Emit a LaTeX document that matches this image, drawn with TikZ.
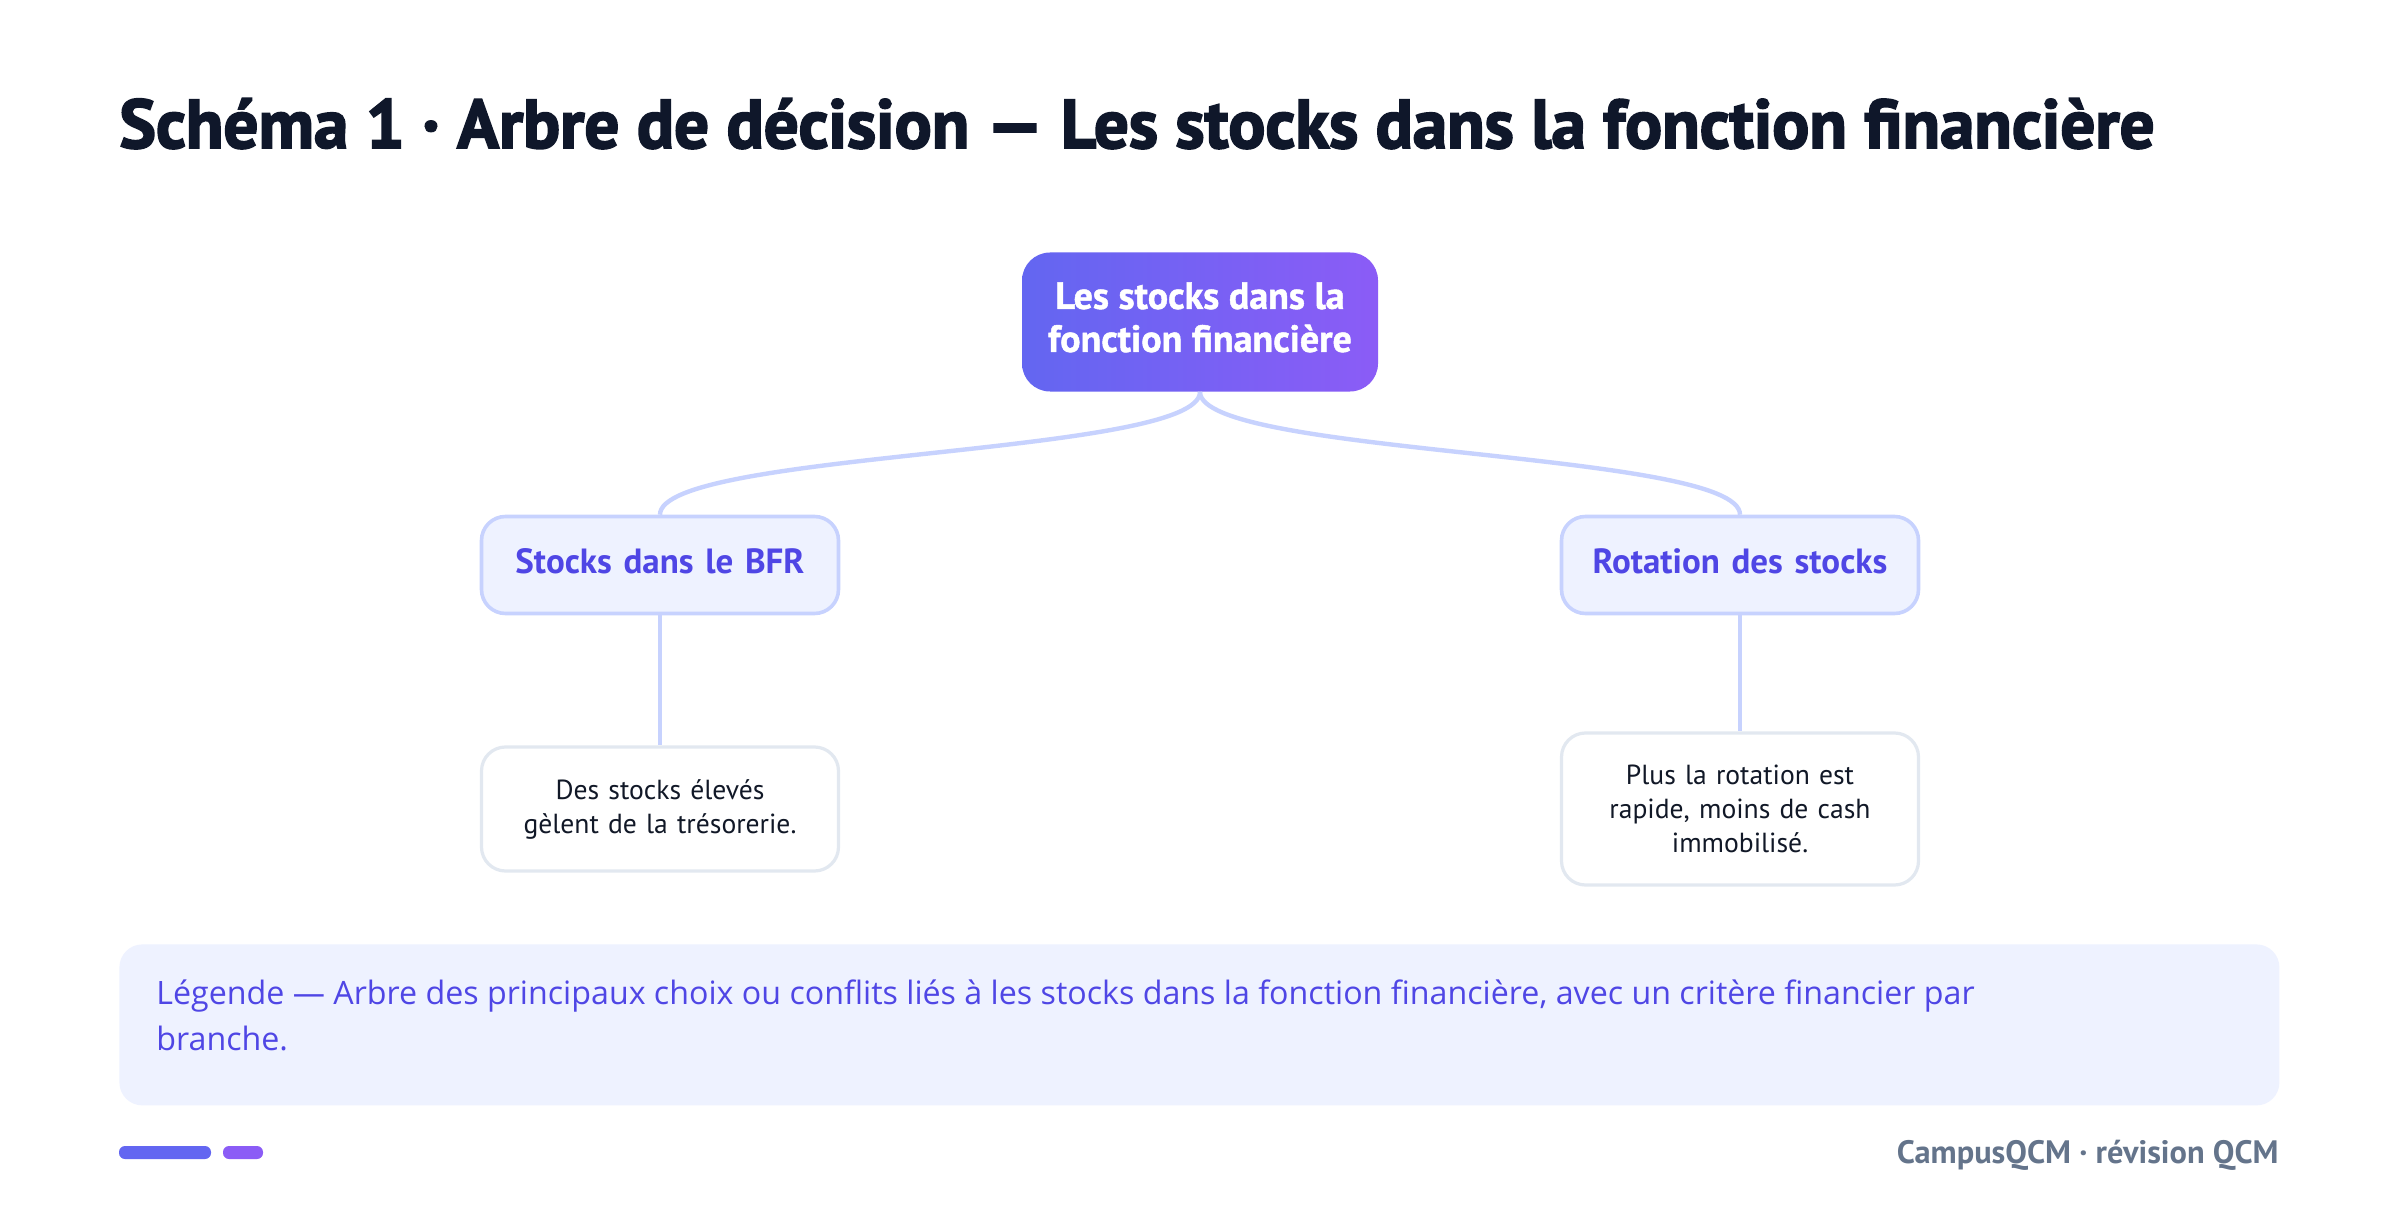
\documentclass[tikz,border=0pt]{standalone}
\usepackage{fontspec}
\setmainfont{PT Sans}
\newfontfamily\titlefont{PT Sans}[BoldFeatures={FakeBold=2.6}]
\newfontfamily\rootfont{PT Sans}[BoldFeatures={FakeBold=1.2}]
\newfontfamily\legendfont{Open Sans}
\definecolor{titleC}{HTML}{0F172A}
\definecolor{rootA}{HTML}{6366F1}
\definecolor{rootB}{HTML}{8B5CF6}
\definecolor{childFill}{HTML}{EEF2FF}
\definecolor{childDraw}{HTML}{C7D2FE}
\definecolor{childText}{HTML}{4F46E5}
\definecolor{leafDraw}{HTML}{E2E8F0}
\definecolor{leafText}{HTML}{111827}
\definecolor{edgeC}{HTML}{C7D2FE}
\definecolor{footC}{HTML}{64748B}
\tikzset{
  rootbox/.style={rounded corners=28*0.5pt, left color=rootA, right color=rootB,
    minimum width=356*0.5pt, minimum height=139*0.5pt,
    align=center, text=white, font=\rootfont\fontsize{19}{21.5}\selectfont\bfseries, inner sep=0pt},
  childbox/.style={rounded corners=24*0.5pt, fill=childFill, draw=childDraw, line width=1.8pt,
    minimum width=357*0.5pt, minimum height=97*0.5pt, text width=340*0.5pt,
    align=center, text=childText, font=\fontsize{17.5}{21.5}\selectfont\bfseries, inner sep=0pt},
  leafbox/.style={rounded corners=24*0.5pt, fill=white, draw=leafDraw, line width=1.6pt,
    minimum width=357*0.5pt, text width=320*0.5pt,
    align=center, text=leafText, font=\fontsize{13.8}{17}\selectfont, inner sep=0pt},
  edge/.style={draw=edgeC, line width=2.2pt},
}
\begin{document}
\begin{tikzpicture}[x=0.5pt,y=-0.5pt]
\useasboundingbox (0,0) rectangle (2400,1214);
\fill[white] (0,0) rectangle (2400,1214);
% title
\node[anchor=base west, inner sep=0pt, text=titleC, font=\titlefont\bfseries\fontsize{34.5}{40}\selectfont]
  (title) at (119,148) {Schéma 1 · Arbre de décision — Les stocks dans la fonction financière};
% nodes
\node[rootbox] (root) at (1200,322) {\raisebox{0pt}[\height][\dimexpr\depth+4.6pt\relax]{\parbox{170pt}{\centering Les stocks dans la\\fonction financière}}};
\node[childbox] (cl) at (660,565) {\raisebox{3.5pt}{Stocks dans le BFR}};
\node[childbox] (cr) at (1740,565) {\raisebox{3.5pt}{Rotation des stocks}};
\node[leafbox, minimum height=124*0.5pt] (ll) at (660,809) {Des stocks élevés\\gèlent de la trésorerie.};
\node[leafbox, minimum height=152*0.5pt] (lr) at (1740,809) {Plus la rotation est\\rapide, moins de cash\\immobilisé.};
% connectors
\draw[edge] (root.south) .. controls +(0,64) and +(0,-64) .. (cl.north);
\draw[edge] (root.south) .. controls +(0,64) and +(0,-64) .. (cr.north);
\draw[edge] (cl.south) -- (ll.north);
\draw[edge] (cr.south) -- (lr.north);
% legend
\node[fill=childFill, rounded corners=23*0.5pt, minimum width=2160*0.5pt, minimum height=161*0.5pt,
  inner sep=0pt, anchor=north west] (legend) at (119,944) {};
\node[anchor=north west, inner sep=0pt, align=left, text=childText,
  font=\legendfont\fontsize{16.1}{23}\selectfont] (legendtext) at (156,979)
  {Légende — Arbre des principaux choix ou conflits liés à les stocks dans la fonction financière, avec un critère financier par\\branche.};
% footer
\fill[rootA, rounded corners=6*0.5pt] (119,1146) rectangle (211,1159);
\fill[rootB, rounded corners=6*0.5pt] (223,1146) rectangle (263,1159);
\node[anchor=base east, inner sep=0pt, text=footC, font=\fontsize{16.2}{18}\selectfont\bfseries]
  (footer) at (2279,1163) {CampusQCM · révision QCM};
\end{tikzpicture}
\end{document}
